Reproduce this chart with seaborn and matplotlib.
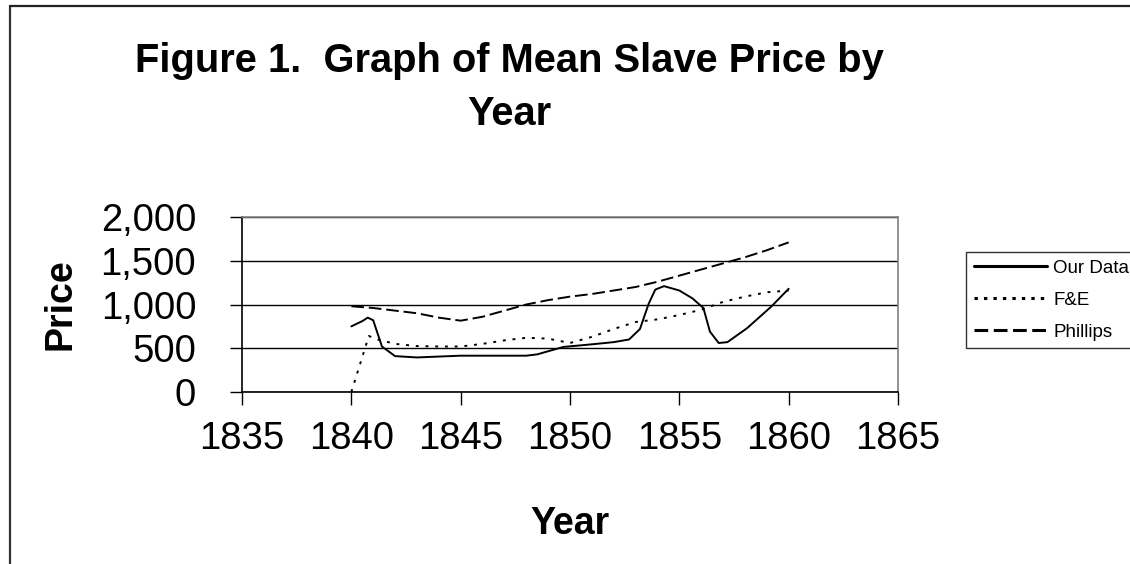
import numpy as np
import pandas as pd
import matplotlib
matplotlib.use("Agg")
import matplotlib.pyplot as plt
import matplotlib.ticker as mticker
from matplotlib.lines import Line2D
import seaborn as sns

# -----------------------------
# Data
# -----------------------------

our_years = [1840.0, 1840.5, 1840.75, 1841.0, 1841.4, 1842.0, 1843.0, 1844.0,
             1845.0, 1846.0, 1847.0, 1848.0, 1848.5, 1849.2, 1849.7, 1851.0,
             1852.0, 1852.7, 1853.2, 1853.6, 1853.9, 1854.3, 1855.0, 1855.6,
             1856.1, 1856.4, 1856.8, 1857.2, 1858.1, 1859.2, 1860.0]
our_price = [750, 810, 850, 820, 520, 410, 395, 405,
             415, 415, 415, 415, 430, 480, 515, 545,
             570, 600, 720, 1010, 1170, 1210, 1160, 1070,
             960, 690, 560, 570, 730, 975, 1180]

fe_years = [1840, 1840.8, 1841.2, 1842, 1843, 1844, 1845, 1846, 1847, 1848,
            1849, 1850, 1851, 1852, 1853, 1854, 1855, 1856, 1857, 1858,
            1859, 1860]
fe_price = [0, 640, 600, 550, 525, 520, 520, 550, 590, 620,
            610, 560, 630, 720, 800, 830, 880, 940, 1030, 1090,
            1140, 1160]

phillips_years = list(range(1840, 1861))
phillips_price = [980, 960, 930, 900, 850, 815, 860, 930, 1000, 1050,
                  1090, 1120, 1160, 1200, 1260, 1330, 1400, 1470, 1540,
                  1620, 1710]

x_ticks = [1835, 1840, 1845, 1850, 1855, 1860, 1865]
y_ticks = [0, 500, 1000, 1500, 2000]

# -----------------------------
# Style
# -----------------------------

sns.set_style("white")
plt.rcParams["font.family"] = ["Liberation Sans", "DejaVu Sans"]
plt.rcParams["text.color"] = "black"
plt.rcParams["axes.labelcolor"] = "black"
plt.rcParams["xtick.color"] = "black"
plt.rcParams["ytick.color"] = "black"

fig = plt.figure(figsize=(11.30, 5.64), dpi=100)
ax = fig.add_axes([242 / 1130, 1 - 392 / 564, 656 / 1130, 175 / 564])

lw = 1.4
sns.lineplot(x=our_years, y=our_price, ax=ax, color="black", linewidth=lw,
             label="Our Data")
sns.lineplot(x=fe_years, y=fe_price, ax=ax, color="black", linewidth=lw,
             linestyle=(0, (1.5, 3.5)), label="F&E")
sns.lineplot(x=phillips_years, y=phillips_price, ax=ax, color="black",
             linewidth=lw, linestyle=(0, (6.5, 2.5)), label="Phillips")

ax.set_xlim(1835, 1865)
ax.set_ylim(0, 2000)
ax.set_xticks(x_ticks)
ax.set_yticks(y_ticks)
ax.yaxis.set_major_formatter(mticker.FuncFormatter(lambda v, p: f"{int(v):,}"))

ax.grid(axis="y", color="black", linewidth=1.0)
ax.grid(axis="x", visible=False)
ax.set_axisbelow(True)

for side in ["left", "bottom"]:
    ax.spines[side].set_color("black")
    ax.spines[side].set_linewidth(1.2)
for side in ["top", "right"]:
    ax.spines[side].set_color("#808080")
    ax.spines[side].set_linewidth(1.2)

ax.tick_params(axis="both", direction="out", length=9, width=1.0,
               color="black", labelsize=27.5, bottom=True, left=True)
ax.tick_params(axis="y", pad=24)
ax.tick_params(axis="x", pad=12)

ax.set_ylabel("Price", fontsize=27, fontweight="bold", labelpad=16)
ax.set_xlabel("Year", fontsize=27, fontweight="bold", labelpad=35)

fig.suptitle("Figure 1.  Graph of Mean Slave Price by\nYear", x=0.451, y=0.926,
             fontsize=28.7, fontweight="bold", linespacing=1.52, va="top")

ax.get_legend().remove()
handles = [
    Line2D([], [], color="black", linewidth=2.2),
    Line2D([], [], color="black", linewidth=2.2, linestyle=(0, (1.1, 2.0))),
    Line2D([], [], color="black", linewidth=2.2, linestyle=(0, (4.5, 1.8))),
]
leg = fig.legend(handles, ["Our Data", "F&E", "Phillips"], loc="upper left",
                 bbox_to_anchor=(966 / 1130, 1 - 252 / 564), borderaxespad=0,
                 fontsize=13.5, handlelength=3.9, handletextpad=0.35,
                 labelspacing=0.8, fancybox=False, frameon=True,
                 borderpad=0.4)
leg.get_frame().set_edgecolor("black")
leg.get_frame().set_linewidth(1.0)

# outer chart border (top and left only visible in the reference)
fig.add_artist(Line2D([10 / 1130, 10 / 1130], [0, 1 - 6 / 564],
                      transform=fig.transFigure, color="#333333", linewidth=1.6))
fig.add_artist(Line2D([10 / 1130, 1], [1 - 6 / 564, 1 - 6 / 564],
                      transform=fig.transFigure, color="#222222", linewidth=1.6))

fig.savefig("out.png", dpi=100, facecolor="white")
